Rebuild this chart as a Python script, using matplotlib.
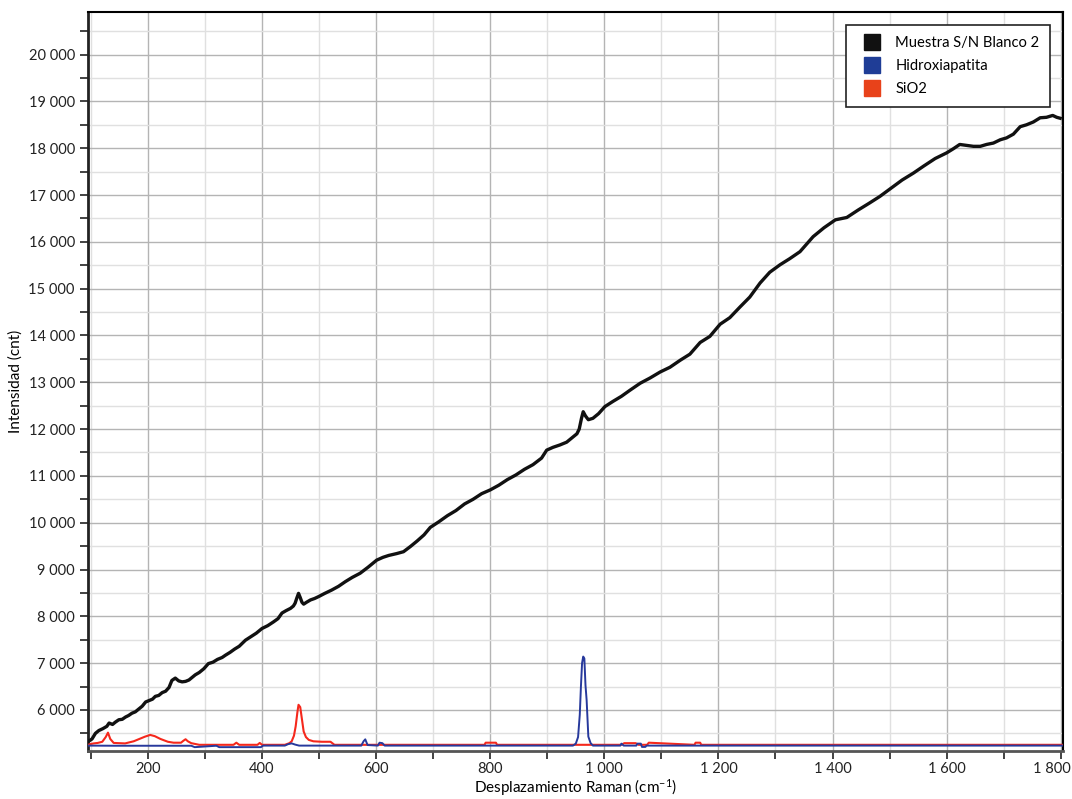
import numpy as np
import matplotlib
matplotlib.use("Agg")
import matplotlib.pyplot as plt
from matplotlib.ticker import MultipleLocator, FuncFormatter
from matplotlib.lines import Line2D
import matplotlib.transforms as mtransforms

plt.rcParams['font.family'] = ['Lato', 'DejaVu Sans']
plt.rcParams['mathtext.default'] = 'regular'

# Muestra S/N Blanco 2
muestra_x = [96, 102, 108, 114, 121, 128, 132, 138, 143, 149, 155, 161, 166, 172, 178,
             184, 190, 196, 202, 208, 213, 219, 225, 231, 237, 242, 248, 254, 260, 266,
             272, 278, 283, 290, 298, 306, 314, 322, 330, 336, 344, 352, 360, 371, 380,
             390, 400, 410, 420, 428, 435, 442, 450, 455, 458, 461, 464, 467, 470, 473,
             478, 485, 492, 499, 510, 522, 534, 546, 558, 572, 586, 601, 612, 622, 636,
             648, 660, 672, 684, 695, 710, 725, 740, 755, 770, 785, 800, 815, 830, 845,
             860, 875, 890, 899, 910, 922, 934, 946, 952, 956, 960, 963, 967, 972, 980,
             990, 1001, 1015, 1030, 1045, 1063, 1080, 1098, 1115, 1133, 1150, 1168, 1185,
             1203, 1220, 1238, 1255, 1273, 1290, 1308, 1325, 1343, 1366, 1385, 1405, 1425,
             1445, 1465, 1483, 1503, 1522, 1542, 1560, 1580, 1600, 1612, 1623, 1635, 1647,
             1659, 1670, 1682, 1694, 1705, 1717, 1729, 1740, 1752, 1764, 1775, 1786, 1793,
             1799]
muestra_y = [5330, 5380, 5500, 5560, 5600, 5650, 5720, 5690, 5740, 5790, 5800, 5850, 5880, 5930, 5960,
             6020, 6080, 6170, 6200, 6230, 6290, 6310, 6370, 6400, 6480, 6630, 6680, 6620, 6600, 6610,
             6640, 6700, 6750, 6800, 6880, 6990, 7020, 7080, 7120, 7170, 7230, 7300, 7360, 7490, 7560,
             7640, 7740, 7800, 7880, 7950, 8070, 8120, 8170, 8220, 8280, 8390, 8490, 8400, 8300, 8260,
             8300, 8350, 8380, 8420, 8490, 8560, 8640, 8740, 8830, 8920, 9050, 9200, 9260, 9300, 9340,
             9380, 9490, 9610, 9740, 9900, 10020, 10150, 10260, 10400, 10500, 10620, 10700, 10800, 10920, 11020,
             11140, 11240, 11380, 11550, 11610, 11660, 11720, 11840, 11900, 12000, 12230, 12370, 12280, 12200, 12230,
             12330, 12480, 12590, 12700, 12830, 12980, 13090, 13220, 13320, 13470, 13600, 13850, 13980,
             14240, 14380, 14610, 14820, 15120, 15350, 15510, 15640, 15790, 16110, 16300, 16470, 16520,
             16680, 16830, 16970, 17150, 17320, 17470, 17620, 17780, 17900, 17990, 18080, 18060, 18040,
             18040, 18080, 18110, 18180, 18220, 18300, 18460, 18500, 18560, 18650, 18660, 18700, 18660,
             18640]

# SiO2
sio2_x = [96, 105, 112, 120, 126, 130, 134, 140, 160, 175, 185, 195, 204, 212, 222, 235, 245,
          258, 262, 266, 270, 276, 290, 350, 355, 360, 392, 396, 400, 440, 448, 452, 456, 459,
          462, 464, 467, 470, 473, 477, 482, 490, 505, 520, 527, 790, 792, 810, 812, 1030, 1035,
          1055, 1060, 1075, 1078, 1158, 1160, 1168, 1170, 1805]
sio2_y = [5262, 5285, 5295, 5320, 5420, 5515, 5380, 5295, 5285, 5330, 5380, 5430, 5466, 5440, 5380, 5320, 5300,
          5300, 5340, 5374, 5330, 5290, 5255, 5255, 5300, 5255, 5255, 5295, 5255, 5255, 5290, 5330, 5450, 5650,
          5950, 6110, 6060, 5800, 5540, 5420, 5360, 5330, 5320, 5320, 5255, 5255, 5300, 5300, 5255, 5255, 5290,
          5290, 5255, 5255, 5300, 5255, 5300, 5300, 5255, 5255]

# Hidroxiapatita
hidrox_x = [96, 140, 276, 282, 320, 325, 398, 402, 440, 446, 452, 458, 465, 574, 578, 581, 585,
            603, 606, 611, 615, 945, 950, 954, 957, 959, 961, 963, 965, 967, 969, 972, 976, 980,
            1028, 1030, 1034, 1056, 1058, 1064, 1066, 1072, 1074, 1805]
hidrox_y = [5238, 5235, 5235, 5205, 5235, 5205, 5205, 5238, 5238, 5270, 5285, 5260, 5238, 5238, 5330, 5372, 5250,
            5238, 5300, 5290, 5238, 5238, 5280, 5420, 5900, 6500, 7000, 7140, 7100, 6530, 6210, 5430, 5290, 5238,
            5238, 5280, 5238, 5238, 5280, 5280, 5210, 5210, 5238, 5238]

fig = plt.figure(figsize=(10.72, 7.99), dpi=100)
ax = fig.add_axes([0.0821, 0.0605, 0.9095, 0.9245])

ax.plot(sio2_x, sio2_y, color="#f5281c", lw=1.5, zorder=3)
ax.plot(hidrox_x, hidrox_y, color="#27399c", lw=1.4, zorder=4)
ax.plot(muestra_x, muestra_y, color="#111111", lw=2.4, zorder=5)

ax.set_xlim(95, 1804)
ax.set_ylim(5130, 20910)

fmt = FuncFormatter(lambda v, p: f"{int(round(v)):,}".replace(",", " "))
ax.xaxis.set_major_locator(MultipleLocator(200))
ax.xaxis.set_minor_locator(MultipleLocator(100))
ax.yaxis.set_major_locator(MultipleLocator(1000))
ax.yaxis.set_minor_locator(MultipleLocator(500))
ax.xaxis.set_major_formatter(fmt)
ax.yaxis.set_major_formatter(fmt)

ax.grid(which="major", color="#b4b4b4", lw=1.0, zorder=0)
ax.grid(which="minor", color="#e0e0e0", lw=1.0, zorder=0)
ax.set_axisbelow(True)

ax.tick_params(which="both", direction="out", labelsize=10.5, colors="#222222")
ax.tick_params(which="major", length=6, width=1.2)
ax.tick_params(which="minor", length=6, width=1.2)
ax.tick_params(axis="x", which="major", pad=2)

ax.spines["left"].set_linewidth(2)
ax.spines["left"].set_color("#222222")
ax.spines["bottom"].set_linewidth(2)
ax.spines["bottom"].set_color("#555555")
ax.spines["top"].set_linewidth(1.5)
ax.spines["right"].set_linewidth(1.5)

ax.set_xlabel("Desplazamiento Raman (cm$^{-1}$)", fontsize=11, labelpad=1)
ax.set_ylabel("Intensidad (cnt)", fontsize=11, labelpad=4)

# last x tick label pulled inside the figure, as in the original
fig.canvas.draw()
for t in ax.get_xticklabels():
    if t.get_text() == "1 800":
        t.set_transform(t.get_transform() + mtransforms.ScaledTranslation(-9 / 100, 0, fig.dpi_scale_trans))

handles = [Line2D([], [], ls="none", marker="s", markersize=11, color=c)
           for c in ["#111111", "#1f3d96", "#e8421a"]]
leg = ax.legend(handles, ["Muestra S/N Blanco 2", "Hidroxiapatita", "SiO2"],
                loc="upper right", bbox_to_anchor=(0.987, 0.982), borderaxespad=0,
                fancybox=False, framealpha=1, edgecolor="#222222", fontsize=10.6,
                handletextpad=0.6, borderpad=0.75, labelspacing=0.6)
leg.get_frame().set_linewidth(1.2)

fig.savefig("out.png", dpi=100)
